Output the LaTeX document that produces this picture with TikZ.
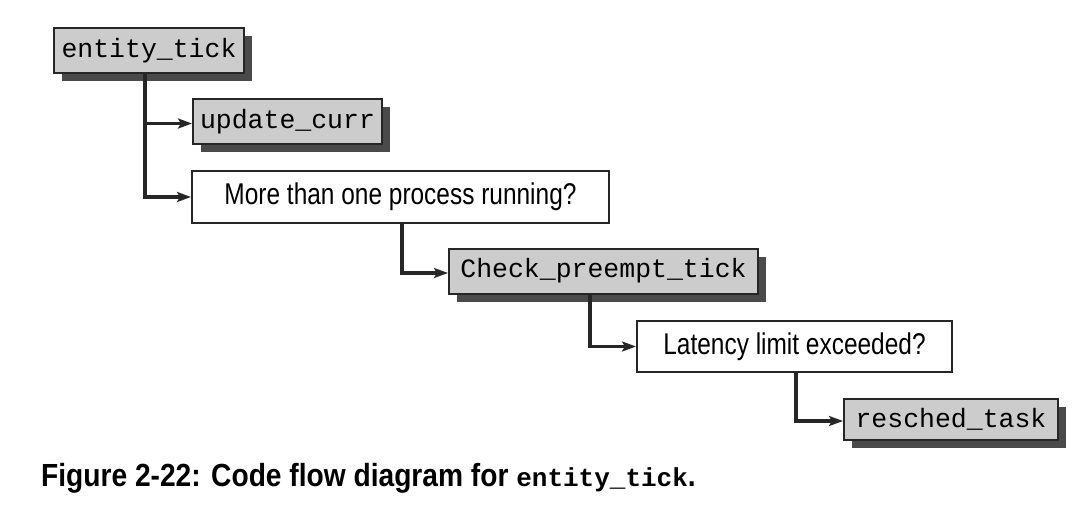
\documentclass[tikz,border=0pt]{standalone}
\usepackage{fontspec}
\setmonofont{Liberation Mono}
\newfontfamily\qfont[FakeStretch=0.815]{Liberation Sans}
\newfontfamily\capfont[FakeStretch=0.88]{Liberation Sans}
\usetikzlibrary{arrows.meta,shadows}
\definecolor{boxgray}{HTML}{CCCCCC}
\definecolor{shadowgray}{HTML}{4A4A4A}
\tikzset{
  codebox/.style={draw=black!85, line width=2pt, fill=boxgray, inner sep=0pt,
    font=\fontsize{26.5}{30}\selectfont\ttfamily,
    drop shadow={shadow xshift=8pt, shadow yshift=-8pt, opacity=1, fill=shadowgray}},
  qbox/.style={draw=black!85, line width=2pt, fill=white, inner sep=0pt,
    font=\qfont\fontsize{30}{34}\selectfont},
  flow/.style={draw=black!85, line width=3.2pt, -{Stealth[length=14pt,width=10pt,inset=3pt]}},
}
\begin{document}
\begin{tikzpicture}[x=1pt,y=-1pt]
\useasboundingbox (0,0) rectangle (1086,506);
\node[codebox, minimum width=190pt, minimum height=45pt] (et) at (149,50.5) {entity\_tick};
\node[codebox, minimum width=189pt, minimum height=45pt] (uc) at (287.5,121.5) {update\_curr};
\node[qbox, minimum width=417pt, minimum height=52pt] (more) at (400.5,197) {More than one process running?};
\node[codebox, minimum width=309pt, minimum height=45pt] (cpt) at (603.5,271) {Check\_preempt\_tick};
\node[qbox, minimum width=315pt, minimum height=51pt] (lat) at (794.5,346.5) {Latency limit exceeded?};
\node[codebox, minimum width=214pt, minimum height=41pt] (rt) at (951,419.5) {resched\_task};
\draw[flow] ([xshift=-4pt]et.south) |- ([yshift=-2pt]uc.west);
\draw[flow] ([xshift=-4pt]et.south) |- (more.west);
\draw[flow] ([xshift=1.5pt]more.south) |- ([yshift=-2pt]cpt.west);
\draw[flow] ([xshift=-13.5pt]cpt.south) |- (lat.west);
\draw[flow] ([xshift=1.5pt]lat.south) |- ([yshift=-1.5pt]rt.west);
\node[anchor=base west, inner sep=0pt, font=\capfont\bfseries\fontsize{32}{36}\selectfont] (cap) at (41,486)
  {Figure 2-22: Code flow diagram for {\ttfamily\bfseries\fontsize{26}{30}\selectfont entity\_tick}.};
\end{tikzpicture}
\end{document}
